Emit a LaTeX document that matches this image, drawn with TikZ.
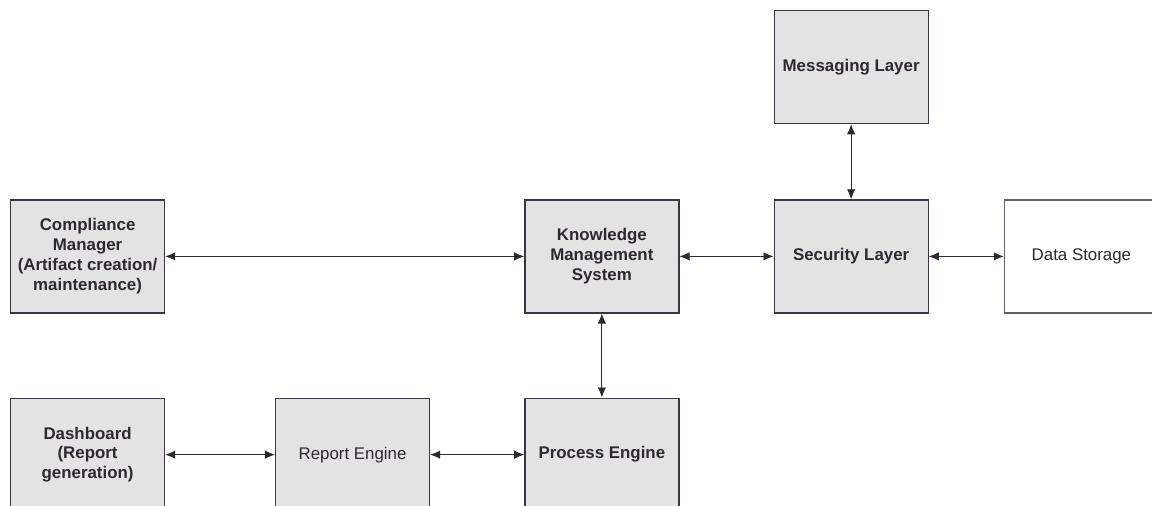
\documentclass[tikz,border=0pt]{standalone}
\usepackage{fontspec}
\setmainfont{Liberation Sans}
\usepackage{xcolor}
\usetikzlibrary{arrows.meta, positioning}
\definecolor{edge}{HTML}{3E3542}
\definecolor{softgray}{HTML}{E4E3E4}
\definecolor{ink}{HTML}{2E2830}
\tikzset{
  box/.style={
    rectangle, draw=edge, fill=softgray, line width=0.9pt,
    minimum width=3.85cm, minimum height=2.825cm, inner sep=0pt,
    align=center, font=\fontsize{12}{14.2}\selectfont\bfseries, text=ink
  },
  plainbox/.style={box, font=\fontsize{12}{14.2}\selectfont},
  whitebox/.style={plainbox, fill=white, draw=edge!80},
  link/.style={{Latex[length=2.5mm,width=2.1mm]}-{Latex[length=2.5mm,width=2.1mm]}, line width=0.6pt, draw=ink},
}

\begin{document}
\begin{tikzpicture}
  \useasboundingbox (0,0) rectangle (28.8,-12.65);

  % top row
  \node[box] (compliance) at (2.19,-6.41)
    {Compliance\\Manager\\(Artifact creation/\\maintenance)};
  \node[box, right=8.975cm of compliance] (kms) {Knowledge\\Management\\System};
  \node[box, right=2.35cm of kms] (security) {Security Layer};
  \node[whitebox, right=1.875cm of security] (storage) {Data Storage};
  \node[box, above=1.875cm of security] (messaging) {Messaging Layer};

  % bottom row
  \node[box, below=2.1cm of kms] (process) {Process Engine};
  \node[plainbox, left=2.35cm of process] (report) {Report Engine};
  \node[box, below=2.1cm of compliance] (dashboard) {Dashboard\\(Report\\generation)};

  \draw[link] (compliance) -- (kms);
  \draw[link] (kms) -- (security);
  \draw[link] (security) -- (storage);
  \draw[link] (messaging) -- (security);
  \draw[link] (kms) -- (process);
  \draw[link] (dashboard) -- (report);
  \draw[link] (report) -- (process);
\end{tikzpicture}
\end{document}
